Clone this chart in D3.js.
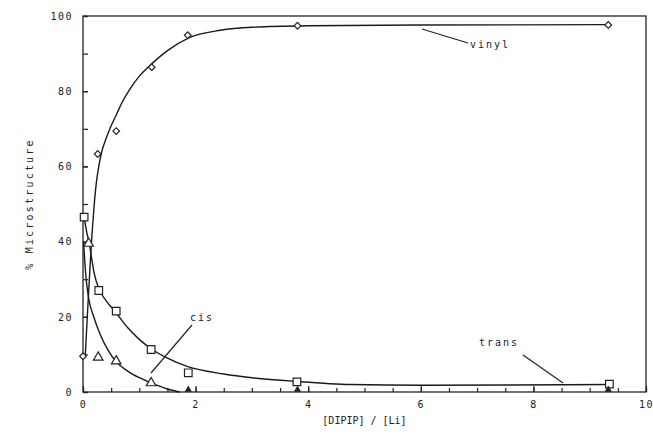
<!DOCTYPE html>
<html lang="en">
<head>
<meta charset="UTF-8">
<title>% Microstructure vs [DIPIP]/[Li]</title>
<script src="https://d3js.org/d3.v7.min.js"></script>
<style>
  body { margin: 0; background: #fff; }
  text { font-family: "DejaVu Sans Mono", monospace; fill: #222; }
</style>
</head>
<body>
<div id="chart"></div>
<script>
// measured points
const vinylPts = [[0, 9.5], [0.26, 63.3], [0.59, 69.4], [1.22, 86.4], [1.86, 94.9], [3.81, 97.4], [9.33, 97.6]];
const transPts = [[0.02, 46.5], [0.28, 27], [0.59, 21.5], [1.21, 11.3], [1.87, 5.1], [3.8, 2.7], [9.35, 2.1]];
const cisPts = [[0.1, 39.5], [0.27, 9.2], [0.59, 8.2], [1.21, 2.4], [1.87, 0.6], [3.81, 0.6], [9.33, 0.6]];

// fitted curves
const vinylCurve = [[0.04, 9.5], [0.08, 21], [0.12, 32], [0.16, 42], [0.2, 50], [0.24, 56], [0.28, 60], [0.34, 64.3],
  [0.4, 67], [0.5, 70.8], [0.6, 74], [0.7, 77.2], [0.81, 80], [1.0, 84], [1.23, 87.4], [1.5, 90.8], [1.88, 94.2],
  [2.44, 96.2], [3, 97], [4, 97.4], [6, 97.6], [9.33, 97.7]];
const transCurve = [[0.02, 46.5], [0.06, 43], [0.11, 39.5], [0.2, 31.5], [0.28, 27.5], [0.4, 24.5], [0.59, 21], [0.8, 17],
  [1.0, 14], [1.21, 11.5], [1.5, 9], [1.85, 6.8], [2.5, 4.8], [3, 3.8], [3.8, 2.8], [4.76, 2.0], [6, 1.8], [9.35, 2.0]];
const cisCurve = [[0.01, 40], [0.05, 31], [0.1, 25], [0.19, 20], [0.3, 15.5], [0.45, 11], [0.59, 8], [0.8, 5.5],
  [1.0, 3.8], [1.21, 2.4], [1.5, 0.8], [1.72, 0]];

const xMajor = [0, 2, 4, 6, 8, 10];
const xMinor = d3.range(0, 10.01, 0.5);
const yMajor = [0, 20, 40, 60, 80, 100];
const yMinor = d3.range(0, 100.1, 10);

const W = 653, H = 434;
const m = { left: 83, right: 7, top: 16, bottom: 42 };

const svg = d3.select("#chart").append("svg")
  .attr("width", W).attr("height", H);

const x = d3.scaleLinear().domain([0, 10]).range([m.left, W - m.right]);
const y = d3.scaleLinear().domain([0, 100]).range([H - m.bottom, m.top]);

// frame
svg.append("rect")
  .attr("x", x(0)).attr("y", y(100))
  .attr("width", x(10) - x(0)).attr("height", y(0) - y(100))
  .attr("fill", "none").attr("stroke", "#222").attr("stroke-width", 1.3);

// x axis ticks (inward)
const gx = svg.append("g").attr("transform", `translate(0,${y(0)})`);
gx.call(d3.axisBottom(x).tickValues(xMinor).tickSize(-4).tickSizeOuter(0).tickFormat(""));
gx.append("g").call(d3.axisBottom(x).tickValues(xMajor).tickSize(-6).tickSizeOuter(0).tickPadding(9).tickFormat(d3.format("d")));
gx.selectAll(".domain").remove();
gx.selectAll("line").attr("stroke", "#222").attr("stroke-width", 1.2);
gx.selectAll("text").style("font-size", "10px").style("letter-spacing", "1.5px");

const gy = svg.append("g").attr("transform", `translate(${x(0)},0)`);
gy.call(d3.axisLeft(y).tickValues(yMinor).tickSize(-5).tickSizeOuter(0).tickFormat(""));
gy.append("g").call(d3.axisLeft(y).tickValues(yMajor).tickSize(-5).tickSizeOuter(0).tickPadding(10).tickFormat(d3.format("d")));
gy.selectAll(".domain").remove();
gy.selectAll("line").attr("stroke", "#222").attr("stroke-width", 1.2);
gy.selectAll("text").style("font-size", "10px").style("letter-spacing", "1.5px");

// axis titles
svg.append("text")
  .attr("x", (x(0) + x(10)) / 2).attr("y", 424)
  .attr("text-anchor", "middle")
  .style("font-size", "10px")
  .text("[DIPIP] / [Li]");

svg.append("text")
  .attr("transform", `translate(33,${(y(0) + y(100)) / 2}) rotate(-90)`)
  .attr("text-anchor", "middle")
  .style("font-size", "10px").style("letter-spacing", "2.2px")
  .text("% Microstructure");

// curves
const line = d3.line().x(d => x(d[0])).y(d => y(d[1])).curve(d3.curveMonotoneX);
[vinylCurve, transCurve, cisCurve].forEach(c => {
  svg.append("path").attr("d", line(c))
    .attr("fill", "none").attr("stroke", "#1a1a1a").attr("stroke-width", 1.4);
});

// markers
const sym = (type, size) => d3.symbol().type(type).size(size)();
svg.selectAll(".vin").data(vinylPts).enter().append("path")
  .attr("transform", d => `translate(${x(d[0])},${y(d[1])}) rotate(45)`)
  .attr("d", sym(d3.symbolSquare, 22))
  .attr("fill", "#fff").attr("stroke", "#222").attr("stroke-width", 1.2);
svg.selectAll(".tr").data(transPts).enter().append("path")
  .attr("transform", d => `translate(${x(d[0])},${y(d[1])})`)
  .attr("d", sym(d3.symbolSquare, 58))
  .attr("fill", "#fff").attr("stroke", "#222").attr("stroke-width", 1.2);
svg.selectAll(".cis").data(cisPts).enter().append("path")
  .attr("transform", d => `translate(${x(d[0])},${y(d[1])})`)
  .attr("d", d => sym(d3.symbolTriangle, d[1] < 1 ? 12 : 40))
  .attr("fill", d => d[1] < 1 ? "#222" : "#fff").attr("stroke", "#222").attr("stroke-width", 1.2);

// labels with leader lines
const labels = [
  { t: "vinyl", tx: 470, ty: 48, x1: 468, y1: 43, x2: 422, y2: 29 },
  { t: "cis", tx: 190, ty: 321, x1: 192, y1: 325, x2: 151, y2: 373 },
  { t: "trans", tx: 479, ty: 346, x1: 523, y1: 355, x2: 563, y2: 383 }
];
labels.forEach(l => {
  svg.append("line").attr("x1", l.x1).attr("y1", l.y1).attr("x2", l.x2).attr("y2", l.y2)
    .attr("stroke", "#222").attr("stroke-width", 1.2);
  svg.append("text").attr("x", l.tx).attr("y", l.ty)
    .style("font-size", "10px").style("letter-spacing", "2px").text(l.t);
});
</script>
</body>
</html>
